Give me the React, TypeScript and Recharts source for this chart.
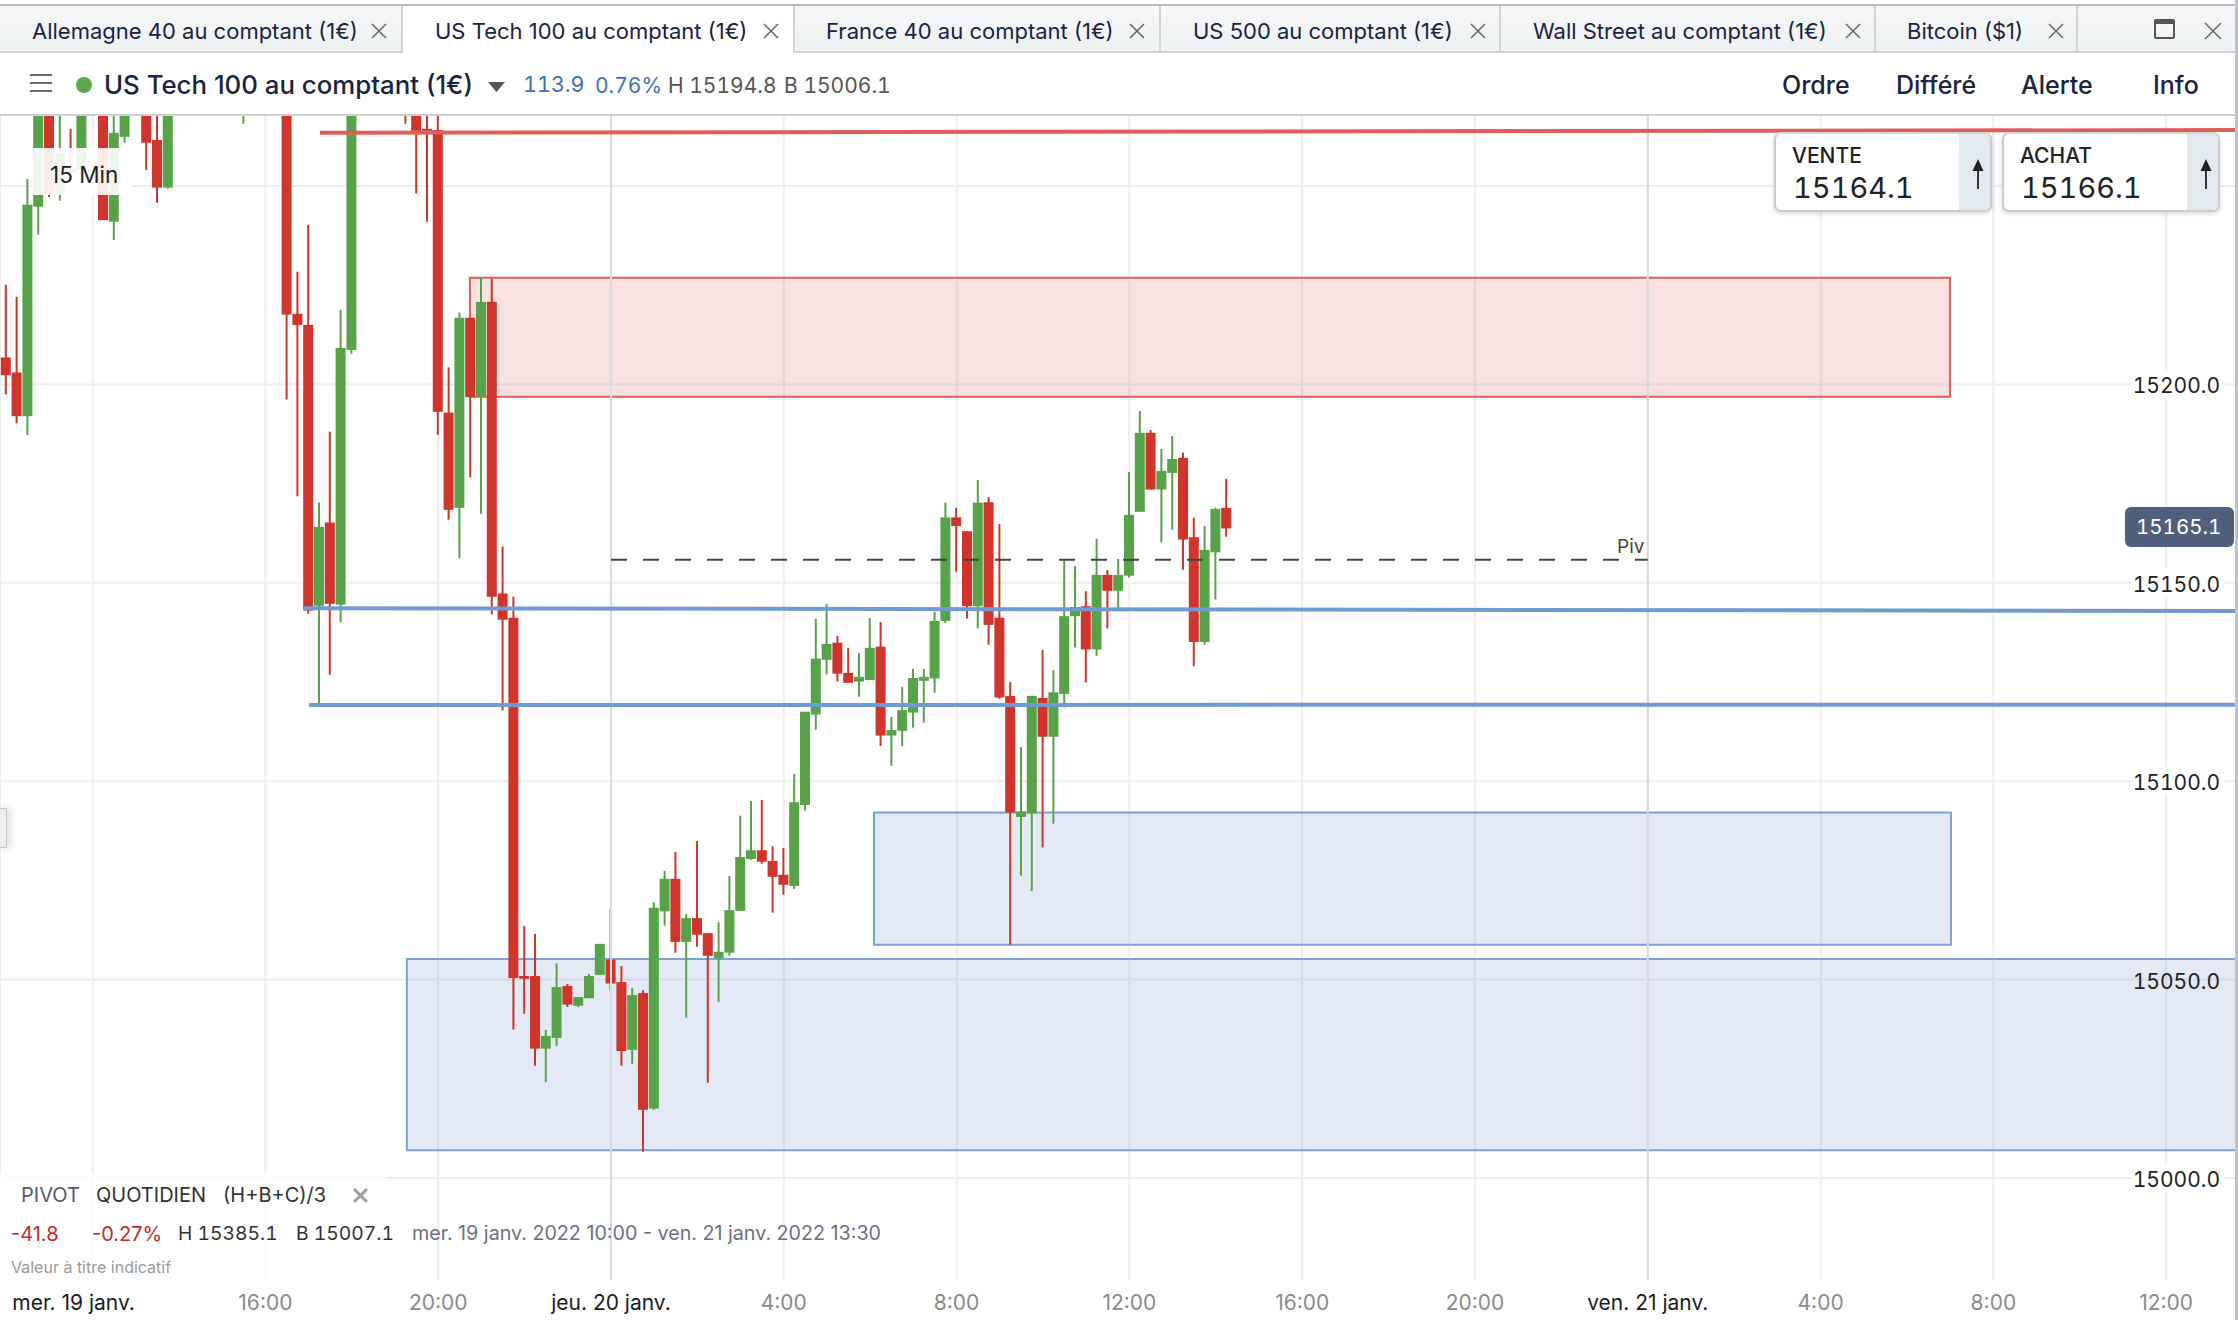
import React from "react";
import { ComposedChart, Bar, XAxis, YAxis, CartesianGrid, ReferenceArea, ReferenceLine } from "recharts";

// slot = number of 15-minute candles since midnight, jeu. 20 janv.
const slots = [-56,-55,-54,-53,-52,-51,-50,-49,-47,-46,-45,-43,-42,-41,-34,-30,-29,-28,-27,-26,-25,-24,-19,-18,-17,-16,-15,-14,-13,-12,-11,-10,-9,-8,-7,-6,-5,-4,-3,-2,-1,0,1,2,3,4,5,6,7,8,9,10,11,12,13,14,15,16,17,18,19,20,21,22,23,24,25,26,27,28,29,30,31,32,33,34,35,36,37,38,39,40,41,42,43,44,45,46,47,48,49,50,51,52,53,54,55,56,57];
const opens = [15206.8,15203,15192,15244.8,15285,15248.5,15254.4,15254,15285,15241,15262.4,15280,15261.6,15249.6,15280,15300,15217.8,15215,15144.2,15165.2,15144.5,15208.7,15280,15285,15264.4,15264.1,15192.9,15168.9,15216.8,15197,15220.8,15147.3,15141.2,15050.9,15050.9,15032.6,15035.3,15048.4,15043.4,15045.3,15051.2,15055,15049.4,15032.3,15046.6,15017.5,15067.2,15075.4,15059.5,15065.5,15061.7,15055.4,15056.8,15067.3,15080.4,15082.6,15079.9,15076.4,15073.6,15094,15116.8,15130.6,15134.9,15127.3,15125.1,15125.5,15133.9,15111.5,15112.7,15117.3,15125.3,15125.9,15140.4,15166.5,15163,15144.1,15170.3,15141.2,15121.5,15091,15091.9,15121,15111.2,15122,15141.6,15144.1,15133.2,15152,15148,15151.8,15167.9,15187.8,15173.5,15177.7,15181.5,15161.5,15135.1,15157.7,15168.9];
const highs = [15225.1,15222.1,15251.8,15290,15290,15275,15264.4,15285,15290,15275,15290,15285,15272,15295,15290,15305,15228.4,15240.2,15170.2,15188.1,15218.8,15295,15285,15290,15285,15275,15204.3,15218.1,15216.8,15227.1,15226.7,15159.1,15146.5,15063.5,15061.5,15037.3,15054.1,15048.9,15045.6,15051.4,15059,15067.8,15053.4,15047.9,15047.3,15069.5,15077.4,15082.2,15066.5,15084.9,15061.7,15064.5,15076.1,15091.3,15095,15095.3,15083.6,15083.2,15101.8,15117.5,15140.9,15144.7,15136.6,15133.6,15132.3,15141.1,15140.1,15116.2,15123.8,15128.3,15128.3,15142.7,15170.2,15168.9,15163,15175.9,15171.6,15164.8,15125,15108.6,15121.5,15133.1,15128,15155.6,15154.2,15147.9,15161.1,15153.2,15156,15177.9,15193.3,15188.5,15183.7,15187,15182.8,15166.4,15164.3,15168.9,15176.2];
const lows = [15197.5,15190.2,15187.2,15237.8,15247.2,15246.3,15252.3,15254,15241.4,15236.4,15260.9,15254,15245.8,15249.3,15265.7,15196.2,15171.8,15142.2,15119.3,15126.8,15140,15207.7,15265.7,15248.1,15241,15187.3,15165.9,15156.2,15176.6,15167.4,15142,15117.8,15037.4,15041.4,15028.3,15024.2,15033.3,15043.1,15043.1,15045.3,15051.2,15047.2,15028.3,15028.8,15006.6,15017.2,15063.6,15056.8,15040.4,15058.3,15024,15044.4,15056,15067.3,15080.2,15079.2,15066.9,15071.4,15072.8,15092.6,15113,15126.9,15125.1,15124.8,15121.3,15125.5,15108.9,15103.9,15108.8,15113.5,15114.8,15122.3,15139.9,15152.8,15141,15138.5,15134.4,15120.8,15058.8,15076.2,15072.3,15083.3,15089.3,15118.6,15133.7,15124.9,15131.6,15138.5,15143.2,15151.3,15167.9,15173.5,15160.2,15163.4,15153.3,15129,15134.4,15145.8,15161.6];
const closes = [15202.3,15192,15245.3,15285,15248.1,15258.2,15253.3,15285,15241.4,15263.4,15285,15260.9,15249.6,15290,15285,15217.6,15215,15143,15164.1,15144.7,15209.2,15290,15270,15263.9,15263.9,15193.1,15168.4,15216.8,15196.8,15220.8,15146.5,15140.7,15050.4,15050.2,15032.6,15035.8,15048.1,15043.7,15045.6,15050.9,15059,15049,15032,15046.1,15017.2,15068.1,15075.4,15059.5,15065.5,15061.3,15056,15057,15067.5,15080.9,15082.6,15079.7,15075.9,15073.9,15094.7,15117.5,15130.9,15134.6,15127.1,15124.8,15126.3,15133.6,15111.5,15112.9,15117.9,15126,15126.3,15140.4,15166.5,15164.3,15144.1,15170.2,15139.4,15121.1,15092.1,15092.4,15121.5,15111.2,15122.4,15141.6,15143.9,15133.2,15152,15148,15152,15167.1,15187.8,15173.5,15178.2,15181.2,15160.9,15135.1,15158.3,15168.6,15163.7];

const candles = slots.map((slot, i) => ({ slot, open: opens[i], high: highs[i], low: lows[i], close: closes[i] }));

const priceTicks = [15000, 15050, 15100, 15150, 15200, 15250];
const hiddenPriceLabels = [15250];
const timeTicks = [-48, -32, -16, 0, 16, 32, 48, 64, 80, 96, 112, 128, 144];
const timeLabels = ["mer. 19 janv.", "16:00", "20:00", "jeu. 20 janv.", "4:00", "8:00", "12:00", "16:00", "20:00", "ven. 21 janv.", "4:00", "8:00", "12:00"];
const dayTicks = [0, 96];

const tabTitles = ["Allemagne 40 au comptant (1€)", "US Tech 100 au comptant (1€)", "France 40 au comptant (1€)", "US 500 au comptant (1€)", "Wall Street au comptant (1€)", "Bitcoin ($1)"];
const tabTextX = [32, 435, 826, 1193, 1533, 1907];
const tabCloseX = [379, 771, 1137, 1478, 1853, 2056];
const tabDividers = [401, 793, 1159, 1499, 1874, 2076];

const RED = "#cf352b";
const GREEN = "#58a34a";
const INK = "#1a2340";
const FONT = "Inter, 'Noto Sans', sans-serif";

const Candle = (props: any) => {
  const { x, y, width, height, payload } = props;
  const { open, high, low, close } = payload;
  const color = close >= open ? GREEN : RED;
  const ppu = height / (high - low);
  const top = y + (high - Math.max(open, close)) * ppu;
  const bodyH = Math.max(1.5, Math.abs(open - close) * ppu);
  const cx = x + width / 2;
  return (
    <g>
      <rect x={cx - 1} y={y} width={2} height={height} fill={color} />
      <rect x={x} y={top} width={width} height={bodyH} fill={color} />
    </g>
  );
};

const PriceTick = (props: any) => {
  const { y, payload } = props;
  if (hiddenPriceLabels.includes(payload.value)) return <g />;
  return (
    <g>
      {payload.value !== 15050 && <rect x={2132} y={y - 14} width={92} height={28} fill="#fff" />}
      <text x={2220} y={y + 1.5} textAnchor="end" dominantBaseline="central" fontFamily={FONT} fontSize={21} fill="#222" style={{ fontVariantNumeric: "tabular-nums" }}>
        {payload.value.toFixed(1)}
      </text>
    </g>
  );
};

const TimeTick = (props: any) => {
  const { x, index } = props;
  const label = timeLabels[index];
  const isDay = label.includes("janv");
  return (
    <text x={index === 0 ? x - 19 : x} y={1302} textAnchor="middle" dominantBaseline="central" fontFamily={FONT} fontSize={21} fill={isDay ? "#1c1c1c" : "#8a8a8a"}>
      {label}
    </text>
  );
};

const T = ({ x, y, size = 21, color = INK, weight = 400, tab = false, children }: any) => (
  <div style={{ position: "absolute", left: x, top: y, transform: "translateY(-50%)", fontSize: size, color, fontWeight: weight, whiteSpace: "nowrap", lineHeight: 1, fontFamily: FONT, fontVariantNumeric: tab ? "tabular-nums" : "normal" }}>
    {children}
  </div>
);

const Cross = ({ x, y, s = 14, color = "#666", w = 1.5 }: any) => (
  <svg style={{ position: "absolute", left: x - s / 2, top: y - s / 2 }} width={s} height={s}>
    <path d={`M1 1L${s - 1} ${s - 1}M${s - 1} 1L1 ${s - 1}`} stroke={color} strokeWidth={w} fill="none" />
  </svg>
);

const Ticket = ({ x, label, value }: any) => (
  <div style={{ position: "absolute", left: x, top: 132, width: 218, height: 80, boxSizing: "border-box", background: "#fff", border: "2px solid #c9cdd0", borderTopColor: "#d5d8da", borderRadius: 7, boxShadow: "0 2px 4px rgba(0,0,0,.15)", overflow: "hidden", zIndex: 3 }}>
    <div style={{ position: "absolute", right: 0, top: 0, bottom: 0, width: 31, background: "#e3eaed" }} />
    <div style={{ position: "absolute", left: 16, top: 11, fontSize: 21, fontWeight: 500, color: "#222", fontFamily: FONT, lineHeight: 1 }}>{label}</div>
    <div style={{ position: "absolute", left: 17, top: 39, fontSize: 29, color: "#222", fontFamily: FONT, lineHeight: 1, fontVariantNumeric: "tabular-nums" }}>{value}</div>
    <svg style={{ position: "absolute", right: 4, top: 24 }} width={16} height={32}>
      <path d="M8 31V4" stroke="#222" strokeWidth={1.8} fill="none" />
      <path d="M2.5 13L8 1L13.5 13Z" fill="#222" />
    </svg>
  </div>
);

export default function App() {
  return (
    <div style={{ position: "absolute", left: 0, top: 0, width: 2238, height: 1320, background: "#fff", overflow: "hidden" }}>
      <div style={{ position: "absolute", left: 0, top: 0 }}>
        <ComposedChart width={2238} height={1320} data={candles} margin={{ top: 115, right: 0, bottom: 0, left: 0 }}>
          <CartesianGrid stroke="#eeeeee" strokeWidth={2} />
          <XAxis type="number" dataKey="slot" domain={[-56.574, 150.65]} allowDataOverflow ticks={timeTicks} interval={0} tick={<TimeTick />} axisLine={false} tickLine={false} height={39} />
          <YAxis type="number" orientation="right" mirror domain={[14974.04, 15267.9]} allowDataOverflow ticks={priceTicks} interval={0} tick={<PriceTick />} axisLine={false} tickLine={false} width={1} />
          {dayTicks.map((d) => (
            <ReferenceLine key={d} x={d} stroke="#d9dae2" strokeWidth={2} />
          ))}
          <Bar dataKey={(d: any) => [d.low, d.high]} barSize={10} shape={<Candle />} isAnimationActive={false} />
          <ReferenceLine segment={[{ x: 0, y: 15155.8 }, { x: 96, y: 15155.8 }]} stroke="#444" strokeWidth={2} strokeDasharray="16 16" />
          <ReferenceArea x1={-13.06} x2={123.98} y1={15196.9} y2={15226.9} fill="rgb(205,75,75)" fillOpacity={0.17} stroke="#e0605a" strokeWidth={2} ifOverflow="hidden" />
          <ReferenceArea x1={24.35} x2={124.07} y1={15058.8} y2={15092.1} fill="rgb(115,145,205)" fillOpacity={0.2} stroke="#7ba3d6" strokeWidth={2} ifOverflow="hidden" />
          <ReferenceArea x1={-18.9} x2={153} y1={15007} y2={15055.2} fill="rgb(115,145,205)" fillOpacity={0.2} stroke="#7ba3d6" strokeWidth={2} ifOverflow="hidden" />
          <ReferenceLine segment={[{ x: -26.94, y: 15263.4 }, { x: 150.65, y: 15264.1 }]} stroke="#df5f58" strokeWidth={4} />
          <ReferenceLine segment={[{ x: -28.43, y: 15143.6 }, { x: 150.65, y: 15142.9 }]} stroke="#6f9bd1" strokeWidth={4} />
          <ReferenceLine segment={[{ x: -27.96, y: 15119.2 }, { x: 150.65, y: 15119.3 }]} stroke="#6f9bd1" strokeWidth={4} />
        </ComposedChart>
      </div>
      {/* hides the grid's closing line under the plot */}
      <div style={{ position: "absolute", left: 0, top: 1280, width: 2235, height: 4, background: "#fff" }} />

      {/* tab strip */}
      <div style={{ position: "absolute", left: 0, top: 4, width: 2238, height: 49, boxSizing: "border-box", background: "linear-gradient(#f6f7f8,#eef1f2)", borderTop: "2px solid #b5bbbf", borderBottom: "2px solid #cdd3d7" }} />
      <div style={{ position: "absolute", left: 401, top: 6, width: 392, height: 49, background: "#fff" }} />
      {tabDividers.map((x) => (
        <div key={x} style={{ position: "absolute", left: x, top: 6, width: 2, height: 47, background: "#cdd3d7" }} />
      ))}
      {tabTitles.map((t, i) => (
        <React.Fragment key={t}>
          <T x={tabTextX[i]} y={31} size={22}>{t}</T>
          <Cross x={tabCloseX[i]} y={31} s={16} />
        </React.Fragment>
      ))}
      <div style={{ position: "absolute", left: 2154, top: 19, width: 21, height: 20, boxSizing: "border-box", border: "2px solid #555", borderTopWidth: 5, borderRadius: 2 }} />
      <Cross x={2213} y={31} s={18} />

      {/* instrument bar */}
      <div style={{ position: "absolute", left: 0, top: 53, width: 2238, height: 63, boxSizing: "border-box", background: "#fff", borderBottom: "2px solid #cdd3d7" }} />
      {[74, 82, 90].map((y) => (
        <div key={y} style={{ position: "absolute", left: 30, top: y, width: 22, height: 2, background: "#666a75" }} />
      ))}
      <div style={{ position: "absolute", left: 76, top: 77, width: 16, height: 16, borderRadius: 8, background: "#5ca84d" }} />
      <T x={104} y={85} size={25.8} weight={500}>US Tech 100 au comptant (1€)</T>
      <svg style={{ position: "absolute", left: 488, top: 82 }} width={17} height={10}><path d="M0 0H17L8.5 10Z" fill="#555" /></svg>
      <T x={523} y={85} size={21.5} color="#3e72b5" tab>113.9</T>
      <T x={595} y={85} size={21} color="#3e72b5" tab>0.76%</T>
      <T x={668} y={85} size={21} color="#555" tab>H 15194.8</T>
      <T x={784} y={85} size={21} color="#555" tab>B 15006.1</T>
      <T x={1782} y={85} size={25} weight={500}>Ordre</T>
      <T x={1896} y={85} size={25} weight={500}>Différé</T>
      <T x={2021} y={85} size={25} weight={500}>Alerte</T>
      <T x={2153} y={85} size={25} weight={500}>Info</T>

      <Ticket x={1774} label="VENTE" value="15164.1" />
      <Ticket x={2002} label="ACHAT" value="15166.1" />

      {/* chart annotations */}
      <div style={{ position: "absolute", left: 32, top: 148, width: 100, height: 47, background: "rgba(255,255,255,.9)" }} />
      <T x={50} y={175} size={22.5} color="#222">15 Min</T>
      <T x={1617} y={546} size={19} color="#444">Piv</T>
      <div style={{ position: "absolute", left: 2125, top: 507, width: 109, height: 40, background: "#4f5f7c", borderRadius: 6 }} />
      <T x={2136} y={527} size={20.5} color="#fff" tab>15165.1</T>
      <div style={{ position: "absolute", left: 0, top: 808, width: 6, height: 38, background: "#eeeeee", border: "1px solid #c5c5c5", borderLeft: 0, boxShadow: "2px 0 10px rgba(0,0,0,.2)" }} />
      <div style={{ position: "absolute", left: 2235, top: 0, width: 3, height: 1320, background: "#bfc3c9" }} />

      {/* info panel */}
      <div style={{ position: "absolute", left: 0, top: 1172, width: 386, height: 109, background: "rgba(255,255,255,.75)" }} />
      <T x={21} y={1195} size={20} color="#555c6e">PIVOT</T>
      <T x={96} y={1195} size={20} color="#333">QUOTIDIEN</T>
      <T x={223} y={1195} size={20} color="#333">(H+B+C)/3</T>
      <Cross x={360} y={1195} s={15} color="#a0a0a0" w={3} />
      <T x={11} y={1234} size={20} color="#c62828">-41.8</T>
      <T x={92} y={1234} size={20} color="#c62828">-0.27%</T>
      <T x={178} y={1234} size={19.3} color="#333" tab>H 15385.1</T>
      <T x={296} y={1234} size={19.3} color="#333" tab>B 15007.1</T>
      <T x={412} y={1234} size={19.7} color="#6b7080">mer. 19 janv. 2022 10:00 - ven. 21 janv. 2022 13:30</T>
      <T x={11} y={1267} size={16} color="#9a9a9a">Valeur à titre indicatif</T>
    </div>
  );
}
